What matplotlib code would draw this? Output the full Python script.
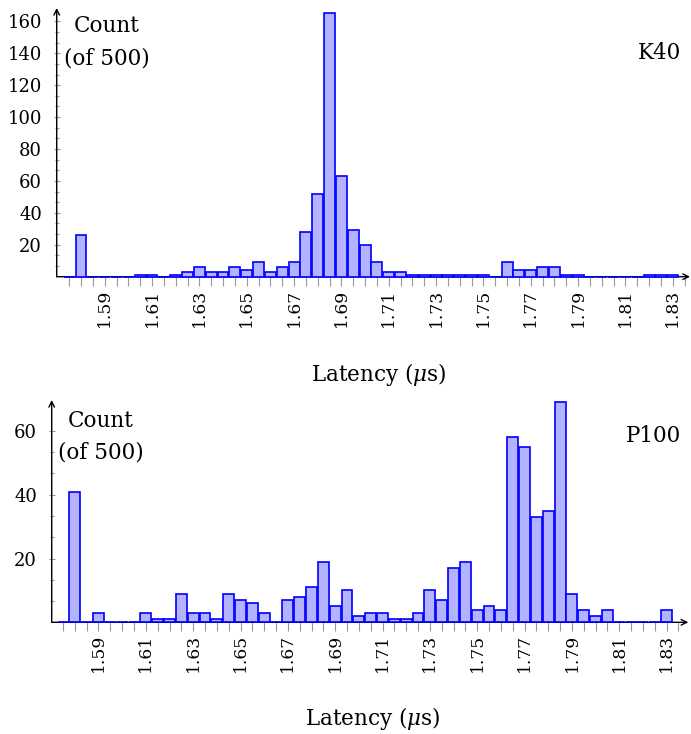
import numpy as np
import matplotlib
matplotlib.use("Agg")
from matplotlib import pyplot as plt

plt.rcParams['font.family'] = ['DejaVu Serif']
plt.rcParams['mathtext.fontset'] = 'dejavuserif'

# histogram bins (latency in us), bin width 0.005
bins = np.round(np.arange(1.575, 1.8301, 0.005), 3)

k40 = [0, 26, 0, 0, 0, 0, 1, 1, 0, 1,
       3, 6, 3, 3, 6, 4, 9, 3, 6, 9,
       28, 52, 165, 63, 29, 20, 9, 3, 3, 1,
       1, 1, 1, 1, 1, 1, 0, 9, 4, 4,
       6, 6, 1, 1, 0, 0, 0, 0, 0, 1,
       1, 1]

p100 = [0, 41, 0, 3, 0, 0, 0, 3, 1, 1,
        9, 3, 3, 1, 9, 7, 6, 3, 0, 7,
        8, 11, 19, 5, 10, 2, 3, 3, 1, 1,
        3, 10, 7, 17, 19, 4, 5, 4, 58, 55,
        33, 35, 69, 9, 4, 2, 4, 0, 0, 0,
        0, 4]

xtick_labels = ['1.59', '1.61', '1.63', '1.65', '1.67', '1.69', '1.71',
                '1.73', '1.75', '1.77', '1.79', '1.81', '1.83']

W, H = 691, 734
fig = plt.figure(figsize=(W / 100, H / 100), dpi=100)


def px_box(left, right, bottom, top):
    return [left / W, 1 - bottom / H, (right - left) / W, (bottom - top) / H]


def px(x, y):
    return x / W, 1 - y / H


def panel(box, xlim, ylim, counts, yticks, name, name_xy, count_xy, label_xy):
    ax = fig.add_axes(px_box(*box))
    ax.bar(bins, counts, width=0.0046, color='#b3b3ff', edgecolor='#0000ff',
           linewidth=1.2, clip_on=False, zorder=3)
    ax.set_xlim(*xlim)
    ax.set_ylim(*ylim)
    for s in ax.spines.values():
        s.set_visible(False)

    # axis lines with arrows
    arrow = dict(arrowstyle='->', color='black', lw=1.0,
                 shrinkA=0, shrinkB=0, mutation_scale=10)
    ax.annotate('', xy=(1, 0), xytext=(0, 0), xycoords='axes fraction',
                arrowprops=arrow, zorder=2)
    ax.annotate('', xy=(0, 1), xytext=(0, 0), xycoords='axes fraction',
                arrowprops=arrow, zorder=2)

    major = [float(t) for t in xtick_labels]
    ax.set_xticks(major)
    ax.set_xticklabels(xtick_labels, rotation=90)
    ax.set_xticks(np.arange(1.575, 1.8351, 0.005), minor=True)
    ax.tick_params(axis='x', which='both', direction='out', length=6.5,
                   width=0.8, color='#999999', labelsize=12.3, pad=2)

    ax.set_yticks(yticks)
    minors = []
    for t in [0] + yticks[:-1]:
        minors += [t + 20 / 3, t + 40 / 3]
    ax.set_yticks(minors, minor=True)
    ax.tick_params(axis='y', which='major', direction='inout', length=5,
                   width=0.8, color='#999999', labelsize=13, pad=8)
    ax.tick_params(axis='y', which='minor', direction='inout', length=3.5,
                   width=0.8, color='#999999')

    fig.text(*px(*name_xy), name, ha='right', va='baseline', fontsize=15.5)
    cx, cy = count_xy
    fig.text(*px(cx, cy), 'Count', ha='center', va='baseline', fontsize=15.5)
    fig.text(*px(cx, cy + 32), '(of 500)', ha='center', va='baseline',
             fontsize=15.5)
    fig.text(*px(*label_xy), r'Latency ($\mu$s)', ha='center', va='baseline',
             fontsize=15.5)
    return ax


panel((56.7, 690, 276.7, 8), (1.56972, 1.83728), (0, 268.7 / 1.596),
      k40, [20, 40, 60, 80, 100, 120, 140, 160], 'K40',
      (681.5, 59), (106.5, 32), (379, 381))

panel((51.7, 688.3, 622.3, 400), (1.57023, 1.83918), (0, 222.3 / 3.19),
      p100, [20, 40, 60], 'P100',
      (681, 442), (100.5, 427), (372.5, 725))

fig.savefig('out.png', dpi=100)
